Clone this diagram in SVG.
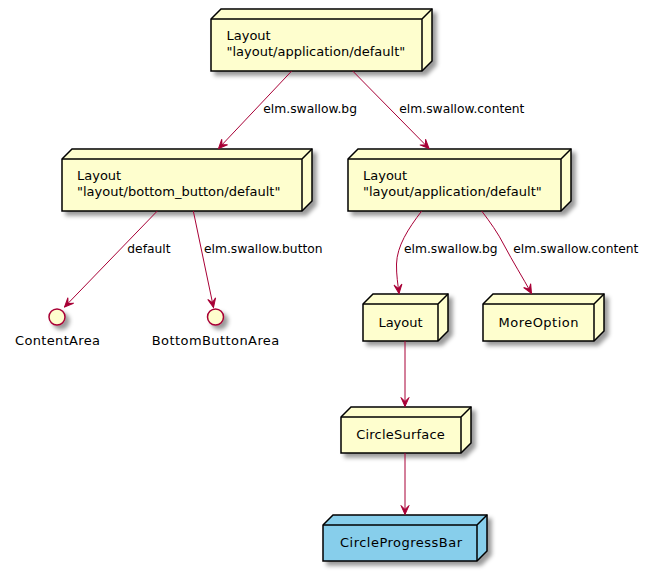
<svg xmlns="http://www.w3.org/2000/svg" width="652" height="571" viewBox="0 0 652 571">
<style>
.node{fill:#FEFECE;stroke:#000000;stroke-width:1.5}
.blue{fill:#87CEEB}
.edge3d{fill:none;stroke:#000000;stroke-width:1.5}
.iface{fill:#FEFECE;stroke:#A80036;stroke-width:1.5}
.t{font-family:"DejaVu Sans",sans-serif;font-size:13px;fill:#000000}
.c{text-anchor:middle}
.lbl{font-family:"DejaVu Sans",sans-serif;font-size:12.3px;fill:#000000}
.conn{fill:none;stroke:#A80036;stroke-width:1}
</style>
<defs>
<filter id="sh" x="-1" y="-1" width="300%" height="300%">
<feGaussianBlur result="b1" stdDeviation="2"/>
<feColorMatrix in="b1" result="b2" type="matrix" values="0 0 0 0 0 0 0 0 0 0 0 0 0 0 0 0 0 0 .4 0"/>
<feOffset dx="4" dy="4" in="b2" result="b3"/>
<feBlend in="SourceGraphic" in2="b3" mode="normal"/>
</filter>
<marker id="arr" viewBox="-10 -5 11 10" refX="0" refY="0" markerWidth="11" markerHeight="10" markerUnits="userSpaceOnUse" orient="auto">
<path d="M0,0 L-9,-4 L-5,0 L-9,4 Z" fill="#A80036" stroke="#A80036" stroke-width="1"/>
</marker>
</defs>
<rect width="652" height="571" fill="#FFFFFF"/>

<g id="n1">
<polygon class="node" filter="url(#sh)" points="211,19 221,9 432,9 432,61 422,71 211,71"/>
<path class="edge3d" d="M422,19 L432,9 M211,19 L422,19 M422,19 L422,71"/>
<text class="t" x="226.5" y="40">Layout</text>
<text class="t" x="226.5" y="55.5">"layout/application/default"</text>
</g>

<g id="n2">
<polygon class="node" filter="url(#sh)" points="62,159 72,149 312,149 312,201 302,211 62,211"/>
<path class="edge3d" d="M302,159 L312,149 M62,159 L302,159 M302,159 L302,211"/>
<text class="t" x="77" y="179.5">Layout</text>
<text class="t" x="77" y="195.5">"layout/bottom_button/default"</text>
</g>

<g id="n3">
<polygon class="node" filter="url(#sh)" points="348,159 358,149 571,149 571,201 561,211 348,211"/>
<path class="edge3d" d="M561,159 L571,149 M348,159 L561,159 M561,159 L561,211"/>
<text class="t" x="363" y="179.5">Layout</text>
<text class="t" x="363" y="195.5">"layout/application/default"</text>
</g>

<g id="i1">
<circle class="iface" filter="url(#sh)" cx="57" cy="317" r="8"/>
<text class="t c" x="57.5" y="344.5" textLength="85" lengthAdjust="spacing">ContentArea</text>
</g>

<g id="i2">
<circle class="iface" filter="url(#sh)" cx="215.5" cy="317" r="8"/>
<text class="t c" x="215.5" y="344.5" textLength="127.5" lengthAdjust="spacing">BottomButtonArea</text>
</g>

<g id="n4">
<polygon class="node" filter="url(#sh)" points="363,304 373,294 448,294 448,331 438,341 363,341"/>
<path class="edge3d" d="M438,304 L448,294 M363,304 L438,304 M438,304 L438,341"/>
<text class="t c" x="400.5" y="327">Layout</text>
</g>

<g id="n5">
<polygon class="node" filter="url(#sh)" points="483,304 493,294 604,294 604,331 594,341 483,341"/>
<path class="edge3d" d="M594,304 L604,294 M483,304 L594,304 M594,304 L594,341"/>
<text class="t c" x="538.5" y="327" textLength="80" lengthAdjust="spacing">MoreOption</text>
</g>

<g id="n6">
<polygon class="node" filter="url(#sh)" points="341,417 351,407 471,407 471,443 461,453 341,453"/>
<path class="edge3d" d="M461,417 L471,407 M341,417 L461,417 M461,417 L461,453"/>
<text class="t c" x="400.5" y="439" textLength="88.5" lengthAdjust="spacing">CircleSurface</text>
</g>

<g id="n7">
<polygon class="node blue" filter="url(#sh)" points="323,525 333,515 487,515 487,551 477,561 323,561"/>
<path class="edge3d" d="M477,525 L487,515 M323,525 L477,525 M477,525 L477,561"/>
<text class="t c" x="401" y="547" textLength="122" lengthAdjust="spacing">CircleProgressBar</text>
</g>

<g id="connectors">
<path class="conn" marker-end="url(#arr)" d="M291.7,71 L218.5,148.5"/>
<path class="conn" marker-end="url(#arr)" d="M352.7,71 L429,148.5"/>
<path class="conn" marker-end="url(#arr)" d="M157.3,211 L64.5,307"/>
<path class="conn" marker-end="url(#arr)" d="M193.3,211 L213.5,307.5"/>
<path class="conn" marker-end="url(#arr)" d="M421.7,211 C408,229 397,246 396.5,264 C396.3,275 398,285 399,293.5"/>
<path class="conn" marker-end="url(#arr)" d="M481.7,211 C490,222 498,233 504,245 C513,262 523,278 531.5,293.5"/>
<path class="conn" marker-end="url(#arr)" d="M405,341 L405,406.5"/>
<path class="conn" marker-end="url(#arr)" d="M405,453 L405,514.5"/>
<text class="lbl" x="263.3" y="113">elm.swallow.bg</text>
<text class="lbl" x="399.3" y="113">elm.swallow.content</text>
<text class="lbl" x="127.3" y="253">default</text>
<text class="lbl" x="204" y="253">elm.swallow.button</text>
<text class="lbl" x="404" y="253">elm.swallow.bg</text>
<text class="lbl" x="513.3" y="253">elm.swallow.content</text>
</g>
</svg>
